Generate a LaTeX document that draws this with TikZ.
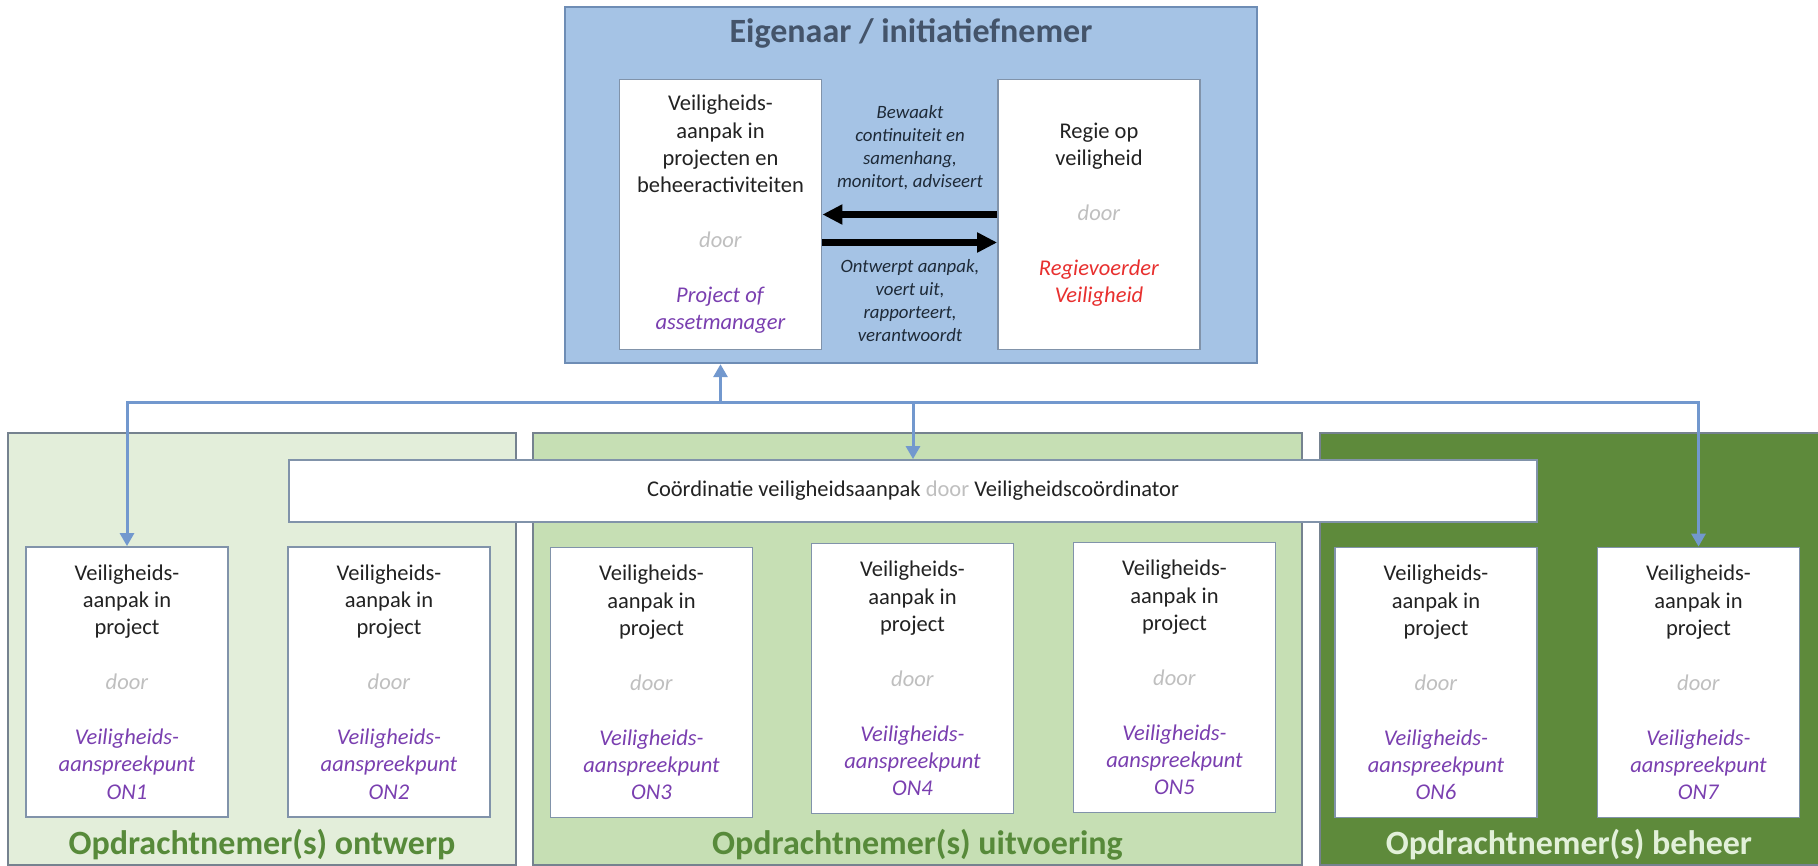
\documentclass[tikz,border=0pt]{standalone}
\usepackage{fontspec}
\setmainfont{Carlito}
\usetikzlibrary{arrows.meta}

\definecolor{ownerfill}{HTML}{A5C3E5}
\definecolor{ownerline}{HTML}{6E8DB5}
\definecolor{titleblue}{HTML}{44546A}
\definecolor{connblue}{HTML}{7298CE}
\definecolor{boxline}{HTML}{8193AA}
\definecolor{panelline}{HTML}{75828F}
\definecolor{ontwerpfill}{HTML}{E3EEDA}
\definecolor{uitvfill}{HTML}{C6DFB4}
\definecolor{beheerfill}{HTML}{5E8A3B}
\definecolor{lblgreen}{HTML}{578A3A}
\definecolor{lbllight}{HTML}{E2F0D9}
\definecolor{doorgray}{HTML}{BFBFBF}
\definecolor{onpurple}{HTML}{7A3FB0}
\definecolor{regiered}{HTML}{E8302F}
\definecolor{txtdark}{HTML}{222222}
\definecolor{noteink}{HTML}{1E2A38}

\newcommand{\paars}[1]{\textcolor{onpurple}{\textit{#1}}}
\newcommand{\rood}[1]{\textcolor{regiered}{\textit{#1}}}
\newcommand{\grijs}[1]{\textcolor{doorgray}{\textit{#1}}}

\tikzset{
  wbox/.style={draw=boxline, fill=white, line width=0.9pt, minimum width=101pt, minimum height=135pt,
    inner sep=0pt, align=center, text=txtdark, font=\fontsize{11.25}{13.7}\selectfont},
  panel/.style={draw=panelline, line width=0.9pt, minimum height=216pt, inner sep=0pt},
  note/.style={align=center, text=noteink, font=\itshape\fontsize{9.4}{11.5}\selectfont},
  lbl/.style={font=\bfseries\fontsize{17}{20}\selectfont},
  conn/.style={draw=connblue, line width=1.5pt},
  bigarrow/.style={line width=3.5pt, -{Triangle[length=10pt,width=9.5pt]}}
}

\begin{document}
\begin{tikzpicture}[x=0.5pt,y=-0.5pt,>={Triangle[length=6.5pt,width=7pt]}]
\fill[white] (0,0) rectangle (1818,866);
\useasboundingbox (0,0) rectangle (1818,866);

% eigenaar
\node[draw=ownerline, fill=ownerfill, line width=1.2pt, minimum width=346pt, minimum height=178pt] (eig) at (911,185) {};
\node[lbl, text=titleblue] (titel) at (911,33) {Eigenaar / initiatiefnemer};
\node[wbox] (vp) at (720.5,214.5) {Veiligheids-\\aanpak in\\projecten en\\beheeractiviteiten\\[13.7pt]
  \grijs{door}\\[13.7pt]\paars{Project of}\\\paars{assetmanager}};
\node[wbox] (rv) at (1099,214.5) {Regie op\\veiligheid\\[13.7pt]
  \grijs{door}\\[13.7pt]\rood{Regievoerder}\\\rood{Veiligheid}};
\draw[bigarrow] (rv.west) -- (vp.east);
\draw[bigarrow] ([yshift=-14pt]vp.east) -- ([yshift=-14pt]rv.west);
\node[note] (bewaakt) at (910,147.5) {Bewaakt\\continuiteit en\\samenhang,\\monitort, adviseert};
\node[note] (ontwerpt) at (910,301) {Ontwerpt aanpak,\\voert uit,\\rapporteert,\\verantwoordt};

% opdrachtnemers
\node[panel, fill=ontwerpfill, minimum width=254pt] (pOntwerp) at (262,649) {};
\node[panel, fill=uitvfill, minimum width=384.5pt] (pUitv) at (917.5,649) {};
\node[panel, fill=beheerfill, minimum width=250pt] (pBeheer) at (1570,649) {};
\node[draw=boxline, fill=white, line width=0.9pt, minimum width=624pt, minimum height=31pt,
  text=txtdark, font=\fontsize{11.25}{13.7}\selectfont] (coord) at (913,491)
  {Coördinatie veiligheidsaanpak \textcolor{doorgray}{door} Veiligheidscoördinator};

\node[wbox] (on1) at (127,682) {Veiligheids-\\aanpak in\\project\\[13.7pt]\grijs{door}\\[13.7pt]\paars{Veiligheids-}\\\paars{aanspreekpunt}\\\paars{ON1}};
\node[wbox] (on2) at (389,682) {Veiligheids-\\aanpak in\\project\\[13.7pt]\grijs{door}\\[13.7pt]\paars{Veiligheids-}\\\paars{aanspreekpunt}\\\paars{ON2}};
\node[wbox] (on3) at (651.5,682.5) {Veiligheids-\\aanpak in\\project\\[13.7pt]\grijs{door}\\[13.7pt]\paars{Veiligheids-}\\\paars{aanspreekpunt}\\\paars{ON3}};
\node[wbox] (on4) at (912.5,678.5) {Veiligheids-\\aanpak in\\project\\[13.7pt]\grijs{door}\\[13.7pt]\paars{Veiligheids-}\\\paars{aanspreekpunt}\\\paars{ON4}};
\node[wbox] (on5) at (1174.5,677.5) {Veiligheids-\\aanpak in\\project\\[13.7pt]\grijs{door}\\[13.7pt]\paars{Veiligheids-}\\\paars{aanspreekpunt}\\\paars{ON5}};
\node[wbox] (on6) at (1436,682.5) {Veiligheids-\\aanpak in\\project\\[13.7pt]\grijs{door}\\[13.7pt]\paars{Veiligheids-}\\\paars{aanspreekpunt}\\\paars{ON6}};
\node[wbox] (on7) at (1698.5,682.5) {Veiligheids-\\aanpak in\\project\\[13.7pt]\grijs{door}\\[13.7pt]\paars{Veiligheids-}\\\paars{aanspreekpunt}\\\paars{ON7}};

\node[lbl, text=lblgreen] (lOntwerp) at (262,845) {Opdrachtnemer(s) ontwerp};
\node[lbl, text=lblgreen] (lUitv) at (917.5,845) {Opdrachtnemer(s) uitvoering};
\node[lbl, text=lbllight] (lBeheer) at (1569,845) {Opdrachtnemer(s) beheer};

% lijnen
\coordinate (rail) at (0,402);
\draw[conn,->] (vp |- rail) -- (vp |- eig.south);
\draw[conn,->] (vp |- rail) -| (on1.north);
\draw[conn,->] (vp |- rail) -| (on7.north);
\draw[conn,->] (coord |- rail) -- (coord.north);
\end{tikzpicture}
\end{document}
